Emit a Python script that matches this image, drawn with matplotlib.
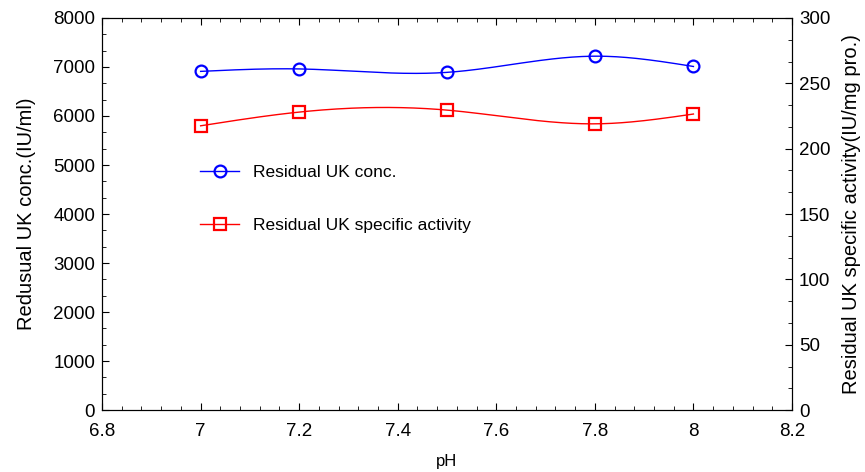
import numpy as np
import matplotlib.pyplot as plt
from matplotlib.ticker import AutoMinorLocator, MultipleLocator

plt.rcParams['font.family'] = ['Liberation Sans', 'DejaVu Sans']

# Data
ph = [7.0, 7.2, 7.5, 7.8, 8.0]
uk_conc = [6910, 6960, 6890, 7220, 7010]
uk_activity = [217.5, 228.0, 229.5, 219.0, 226.5]


def smooth(x, y, n=200):
    # natural cubic spline, only used to draw the connecting curve
    x = np.asarray(x, float)
    y = np.asarray(y, float)
    h = np.diff(x)
    m = len(x)
    A = np.zeros((m, m))
    b = np.zeros(m)
    A[0, 0] = A[-1, -1] = 1
    for i in range(1, m - 1):
        A[i, i - 1] = h[i - 1]
        A[i, i] = 2 * (h[i - 1] + h[i])
        A[i, i + 1] = h[i]
        b[i] = 6 * ((y[i + 1] - y[i]) / h[i] - (y[i] - y[i - 1]) / h[i - 1])
    M = np.linalg.solve(A, b)
    xs = np.linspace(x[0], x[-1], n)
    idx = np.clip(np.searchsorted(x, xs) - 1, 0, m - 2)
    t0 = x[idx + 1] - xs
    t1 = xs - x[idx]
    hi = h[idx]
    ys = (M[idx] * t0 ** 3 + M[idx + 1] * t1 ** 3) / (6 * hi) \
        + (y[idx] / hi - M[idx] * hi / 6) * t0 \
        + (y[idx + 1] / hi - M[idx + 1] * hi / 6) * t1
    return xs, ys


fig = plt.figure(figsize=(8.65, 4.72), dpi=100)
ax = fig.add_axes([0.118, 0.131, 0.7976, 0.831])
ax2 = ax.twinx()

xs, ys = smooth(ph, uk_conc)
ax.plot(xs, ys, color='blue', lw=1)
ax.plot(ph, uk_conc, 'o', mfc='none', mec='blue', mew=1.6, ms=8.5)

xs, ys = smooth(ph, uk_activity)
ax2.plot(xs, ys, color='red', lw=1)
ax2.plot(ph, uk_activity, 's', mfc='none', mec='red', mew=1.6, ms=8.5)

ax.set_xlim(6.8, 8.2)
ax.set_ylim(0, 8000)
ax2.set_ylim(0, 300)
ax.xaxis.set_minor_locator(AutoMinorLocator(5))
ax.yaxis.set_major_locator(MultipleLocator(1000))
ax.yaxis.set_minor_locator(AutoMinorLocator(3))
ax2.yaxis.set_major_locator(MultipleLocator(50))
ax2.yaxis.set_minor_locator(AutoMinorLocator(3))
ax.set_xticks([6.8, 7.0, 7.2, 7.4, 7.6, 7.8, 8.0, 8.2])
ax.set_xticklabels(['6.8', '7', '7.2', '7.4', '7.6', '7.8', '8', '8.2'])

ax.tick_params(axis='both', which='both', direction='in', labelsize=13.5)
ax.tick_params(axis='x', which='both', top=True, pad=9)
ax.tick_params(axis='y', pad=5)
ax.tick_params(which='major', length=5)
ax.tick_params(which='minor', length=3)
ax2.tick_params(axis='y', which='both', direction='in', labelsize=13.5, pad=5)
ax2.tick_params(which='major', length=5)
ax2.tick_params(which='minor', length=3)

ax.set_xlabel('pH', fontsize=12, labelpad=10)
ax.set_ylabel('Redusual UK conc.(IU/ml)', fontsize=14.5, labelpad=12)
ax2.set_ylabel('Residual UK specific activity(IU/mg pro.)', fontsize=14.5, labelpad=8)

h1 = plt.Line2D([], [], color='blue', lw=1, marker='o', mfc='none', mec='blue', mew=1.6, ms=8.5)
h2 = plt.Line2D([], [], color='red', lw=1, marker='s', mfc='none', mec='red', mew=1.6, ms=8.5)
ax.legend([h1, h2], ['Residual UK conc.', 'Residual UK specific activity'],
          loc='upper left', bbox_to_anchor=(0.12, 0.665), frameon=False,
          fontsize=12.5, labelspacing=2.2, handlelength=2.2)

fig.savefig('out.png', dpi=100)
